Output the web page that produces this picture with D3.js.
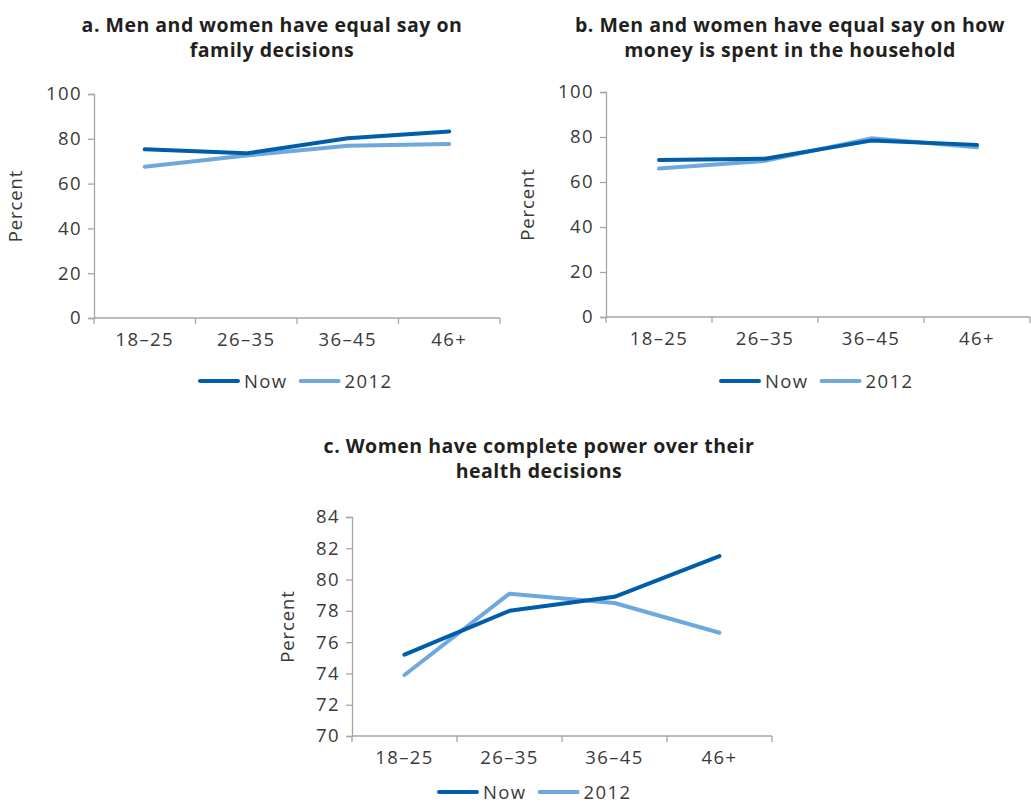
<!DOCTYPE html>
<html>
<head>
<meta charset="utf-8">
<script src="https://cdn.jsdelivr.net/npm/d3@7"></script>
<style>
  html, body { margin: 0; padding: 0; background: #fff; }
  svg { display: block; }
</style>
</head>
<body>
<svg id="chart" width="1031" height="806"></svg>
<script>
// ---- Data ----
const categories = ["18–25", "26–35", "36–45", "46+"];
const seriesNames = ["Now", "2012"];

const titleA = ["a. Men and women have equal say on", "family decisions"];
const nowA = [75.3, 73.5, 80.2, 83.3];
const y2012A = [67.5, 72.5, 76.9, 77.7];

const titleB = ["b. Men and women have equal say on how", "money is spent in the household"];
const nowB = [69.8, 70.3, 78.4, 76.5];
const y2012B = [66.0, 69.4, 79.4, 75.4];

const titleC = ["c. Women have complete power over their", "health decisions"];
const nowC = [75.2, 78.0, 78.9, 81.5];
const y2012C = [73.9, 79.1, 78.5, 76.6];

const ticksAB = [0, 20, 40, 60, 80, 100];
const ticksC = [70, 72, 74, 76, 78, 80, 82, 84];
const yLabel = "Percent";

// ---- Styles ----
const colors = { "Now": "#005DAA", "2012": "#6FA8DC" };
const axisColor = "#a6a6a6";
const textColor = "#3a3a3a";
const font = "'Open Sans', sans-serif";
const labelSize = 18.5;
const labelSpacing = 1.4;

const svg = d3.select("#chart");

function drawPanel(opt) {
  const { left, right, top, bottom, domain, ticks, title, titleX, titleY, now, old, labelX, legendY, legendX } = opt;
  const g = svg.append("g");
  const x = d3.scaleBand().domain(categories).range([left, right]).paddingInner(0).paddingOuter(0);
  const y = d3.scaleLinear().domain(domain).range([bottom, top]);

  // title
  const t = g.append("text")
    .attr("x", titleX).attr("y", titleY)
    .attr("text-anchor", "middle")
    .attr("font-family", font).attr("font-weight", 700)
    .attr("font-size", 19.5).attr("letter-spacing", 0.5).attr("fill", "#231f20");
  title.forEach((line, i) => {
    t.append("tspan").attr("x", titleX).attr("dy", i === 0 ? 0 : 25).text(line);
  });

  // y axis
  const yAxis = g.append("g").attr("transform", `translate(${left},0)`)
    .call(d3.axisLeft(y).tickValues(ticks).tickSize(6).tickPadding(6));
  yAxis.select(".domain").attr("stroke", axisColor).attr("stroke-width", 1.3);
  yAxis.selectAll(".tick line").attr("stroke", axisColor).attr("stroke-width", 1.3);
  yAxis.selectAll(".tick text").attr("font-family", font).attr("font-size", labelSize)
    .attr("fill", textColor).attr("letter-spacing", labelSpacing);

  // x axis baseline and boundary ticks
  const xAxis = g.append("g").attr("transform", `translate(0,${bottom})`)
    .call(d3.axisBottom(x).tickSize(0).tickPadding(15));
  xAxis.select(".domain").remove();
  xAxis.selectAll(".tick text").attr("font-family", font).attr("font-size", labelSize)
    .attr("fill", textColor).attr("letter-spacing", labelSpacing);
  g.append("line").attr("x1", left).attr("x2", right).attr("y1", bottom).attr("y2", bottom)
    .attr("stroke", axisColor).attr("stroke-width", 1.3);
  const bounds = categories.map(c => x(c)).concat([right]);
  g.selectAll(".btick").data(bounds).enter().append("line")
    .attr("x1", d => d).attr("x2", d => d)
    .attr("y1", bottom).attr("y2", bottom + 6)
    .attr("stroke", axisColor).attr("stroke-width", 1.3);

  // y label
  g.append("text")
    .attr("transform", `translate(${labelX},${(top + bottom) / 2}) rotate(-90)`)
    .attr("text-anchor", "middle")
    .attr("font-family", font).attr("font-size", 18.5)
    .attr("fill", textColor).attr("letter-spacing", 0.9)
    .text(yLabel);

  // lines
  const line = d3.line()
    .x((d, i) => x(categories[i]) + x.bandwidth() / 2)
    .y(d => y(d));
  [["2012", old], ["Now", now]].forEach(([name, vals]) => {
    g.append("path").datum(vals)
      .attr("d", line)
      .attr("fill", "none")
      .attr("stroke", colors[name])
      .attr("stroke-width", 4)
      .attr("stroke-linecap", "round")
      .attr("stroke-linejoin", "round");
  });

  // legend
  const lg = g.append("g").attr("transform", `translate(${legendX},${legendY})`);
  let off = 0;
  seriesNames.forEach((name) => {
    lg.append("line").attr("x1", off).attr("x2", off + 38).attr("y1", 0).attr("y2", 0)
      .attr("stroke", colors[name]).attr("stroke-width", 4).attr("stroke-linecap", "round");
    const tx = lg.append("text").attr("x", off + 44).attr("y", 7)
      .attr("font-family", font).attr("font-size", labelSize)
      .attr("fill", textColor).attr("letter-spacing", labelSpacing).text(name);
    off += 44 + tx.node().getComputedTextLength() + 13;
  });
}

drawPanel({
  left: 94, right: 500, top: 94, bottom: 318, domain: [0, 100], ticks: ticksAB,
  title: titleA, titleX: 272, titleY: 32, now: nowA, old: y2012A,
  labelX: 22, legendX: 200, legendY: 381
});
drawPanel({
  left: 606, right: 1030, top: 92, bottom: 317, domain: [0, 100], ticks: ticksAB,
  title: titleB, titleX: 790, titleY: 32, now: nowB, old: y2012B,
  labelX: 534, legendX: 721, legendY: 381
});
drawPanel({
  left: 352, right: 772, top: 517, bottom: 736, domain: [70, 84], ticks: ticksC,
  title: titleC, titleX: 539, titleY: 453, now: nowC, old: y2012C,
  labelX: 294, legendX: 439, legendY: 792
});
</script>
</body>
</html>
